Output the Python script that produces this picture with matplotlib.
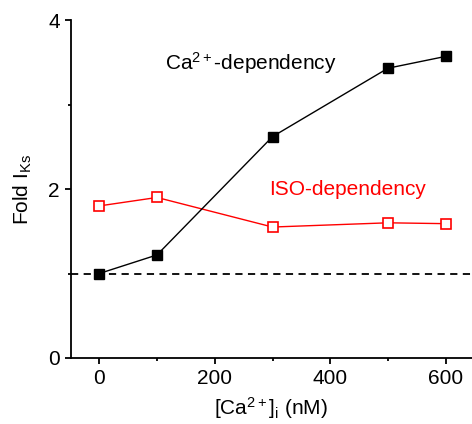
import numpy as np
import matplotlib
matplotlib.use('Agg')
import matplotlib.pyplot as plt
from matplotlib.ticker import MultipleLocator

plt.rcParams['font.family'] = ['Liberation Sans', 'DejaVu Sans']
plt.rcParams['mathtext.fontset'] = 'custom'
plt.rcParams['mathtext.rm'] = 'Liberation Sans'
plt.rcParams['mathtext.it'] = 'Liberation Sans'

# data
ca_conc = [0, 100, 300, 500, 600]
ca_dependency = [1.00, 1.22, 2.62, 3.43, 3.57]
iso_dependency = [1.80, 1.90, 1.55, 1.60, 1.59]
baseline = 1.0

fs = 15

fig = plt.figure(figsize=(4.72, 4.24), dpi=100)
ax = fig.add_axes([0.1504, 0.1557, 0.849, 0.797])

ax.axhline(baseline, color='black', linestyle=(0, (4, 3)), linewidth=1.3, zorder=1)

ax.plot(ca_conc, iso_dependency, color='red', linewidth=1.0,
        marker='s', ms=7.5, mfc='white', mec='red', mew=1.2, zorder=2)
ax.plot(ca_conc, ca_dependency, color='black', linewidth=1.0,
        marker='s', ms=7.5, mfc='black', mec='black', zorder=3)

ax.text(114, 3.49, r'Ca$^{2+}$-dependency', fontsize=fs, va='center', ha='left')
ax.text(294, 1.99, 'ISO-dependency', fontsize=fs, va='center', ha='left', color='red')

ax.set_xlim(-49, 645)
ax.set_ylim(0, 4)
ax.xaxis.set_major_locator(MultipleLocator(200))
ax.xaxis.set_minor_locator(MultipleLocator(100))
ax.yaxis.set_major_locator(MultipleLocator(2))
ax.yaxis.set_minor_locator(MultipleLocator(1))

for side in ['top', 'right']:
    ax.spines[side].set_visible(False)
for side in ['left', 'bottom']:
    ax.spines[side].set_linewidth(1.3)

ax.tick_params(which='major', direction='out', length=4.5, width=1.3, labelsize=fs)
ax.tick_params(which='minor', direction='out', length=2.5, width=1.3)

ax.set_ylabel(r'Fold I$_{\mathrm{Ks}}$', fontsize=fs, labelpad=10)
ax.set_xlabel(r'[Ca$^{2+}$]$_{\mathrm{i}}$ (nM)', fontsize=fs, labelpad=5)

fig.savefig('out.png', dpi=100)
